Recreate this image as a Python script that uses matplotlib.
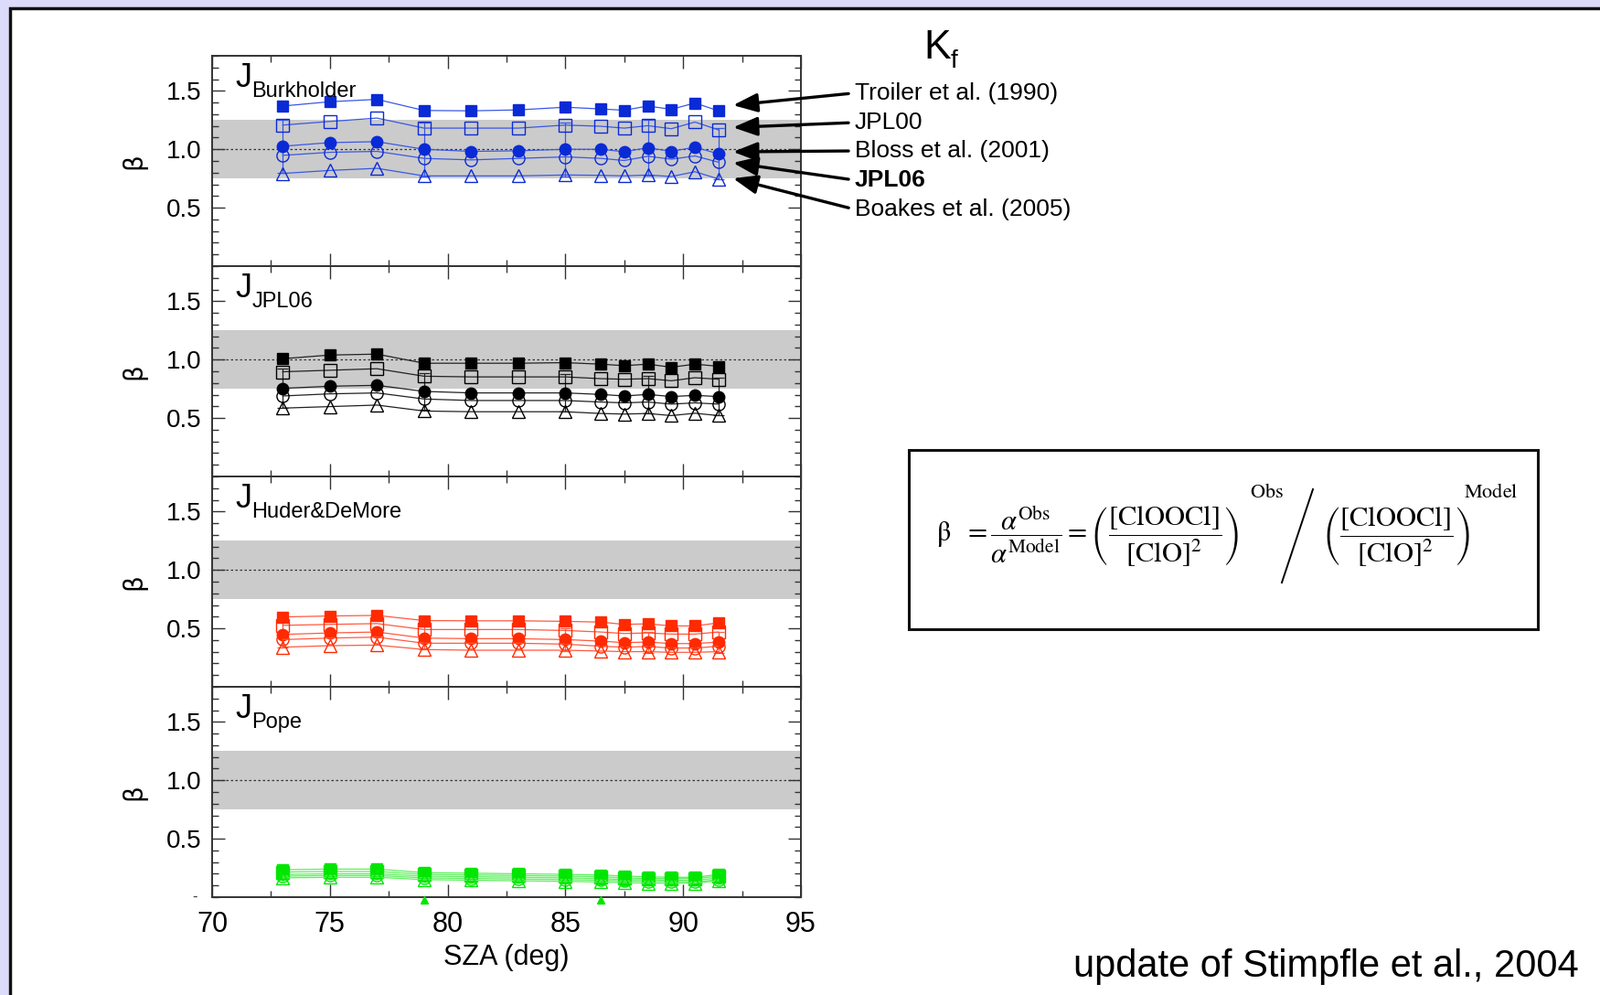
import numpy as np
import matplotlib.pyplot as plt
from matplotlib.patches import Rectangle
from matplotlib.lines import Line2D
from matplotlib.ticker import MultipleLocator, FixedLocator

plt.rcParams['font.family'] = ['Liberation Sans', 'DejaVu Sans']
plt.rcParams['mathtext.fontset'] = 'stix'

# solar zenith angles of the measurements
sza = [73, 75, 77, 79, 81, 83, 85, 86.5, 87.5, 88.5, 89.5, 90.5, 91.5]

# J_Burkholder
burk_troiler = [1.370, 1.407, 1.427, 1.332, 1.329, 1.337, 1.360, 1.345, 1.334, 1.370, 1.342, 1.396, 1.329]
burk_jpl00 = [1.207, 1.238, 1.267, 1.181, 1.181, 1.181, 1.207, 1.197, 1.181, 1.202, 1.176, 1.233, 1.166]
burk_bloss = [1.026, 1.057, 1.065, 1.000, 0.982, 0.987, 1.000, 1.000, 0.979, 1.013, 0.982, 1.018, 0.961]
burk_jpl06 = [0.948, 0.974, 0.982, 0.922, 0.909, 0.922, 0.935, 0.922, 0.904, 0.940, 0.915, 0.943, 0.889]
burk_boakes = [0.793, 0.819, 0.837, 0.772, 0.772, 0.772, 0.780, 0.777, 0.772, 0.780, 0.767, 0.808, 0.746]

# J_JPL06
jpl_troiler = [1.008, 1.039, 1.047, 0.969, 0.969, 0.969, 0.974, 0.961, 0.948, 0.961, 0.935, 0.961, 0.943]
jpl_jpl00 = [0.896, 0.909, 0.922, 0.858, 0.852, 0.852, 0.852, 0.837, 0.832, 0.837, 0.819, 0.845, 0.832]
jpl_bloss = [0.754, 0.772, 0.780, 0.728, 0.715, 0.715, 0.715, 0.702, 0.689, 0.702, 0.684, 0.694, 0.684]
jpl_jpl06 = [0.689, 0.707, 0.715, 0.663, 0.650, 0.650, 0.650, 0.637, 0.630, 0.637, 0.619, 0.630, 0.619]
jpl_boakes = [0.585, 0.598, 0.611, 0.560, 0.554, 0.554, 0.554, 0.539, 0.534, 0.539, 0.521, 0.541, 0.521]

# J_Huder&DeMore
hud_troiler = [0.598, 0.606, 0.611, 0.567, 0.565, 0.565, 0.560, 0.554, 0.534, 0.539, 0.521, 0.521, 0.547]
hud_jpl00 = [0.526, 0.534, 0.541, 0.490, 0.490, 0.490, 0.482, 0.469, 0.456, 0.461, 0.451, 0.451, 0.469]
hud_bloss = [0.448, 0.461, 0.469, 0.417, 0.412, 0.412, 0.404, 0.391, 0.378, 0.383, 0.370, 0.370, 0.383]
hud_jpl06 = [0.404, 0.417, 0.425, 0.373, 0.373, 0.373, 0.365, 0.347, 0.339, 0.345, 0.332, 0.332, 0.347]
hud_boakes = [0.339, 0.352, 0.357, 0.319, 0.313, 0.313, 0.313, 0.306, 0.301, 0.301, 0.295, 0.295, 0.301]

# J_Pope
pope_troiler = [0.235, 0.240, 0.240, 0.210, 0.205, 0.200, 0.195, 0.190, 0.180, 0.175, 0.170, 0.170, 0.195]
pope_jpl00 = [0.215, 0.220, 0.220, 0.195, 0.190, 0.185, 0.180, 0.175, 0.165, 0.160, 0.160, 0.160, 0.180]
pope_bloss = [0.195, 0.200, 0.200, 0.180, 0.175, 0.170, 0.165, 0.160, 0.150, 0.150, 0.145, 0.145, 0.165]
pope_jpl06 = [0.180, 0.185, 0.185, 0.165, 0.160, 0.155, 0.150, 0.145, 0.140, 0.135, 0.135, 0.130, 0.150]
pope_boakes = [0.165, 0.170, 0.170, 0.150, 0.145, 0.140, 0.135, 0.130, 0.125, 0.120, 0.120, 0.120, 0.140]
pope_low_sza = [79, 86.5]
pope_low = [-0.025, -0.025]

# error bars drawn on the Bloss series at these points
err_idx = [0, 3, 6, 9, 12]
burk_err = [0.23, 0.23, 0.23, 0.24, 0.22]
jpl_err = [0.17, 0.16, 0.16, 0.16, 0.16]
hud_err = [0.11, 0.10, 0.10, 0.09, 0.09]
pope_err = [0.04, 0.04, 0.04, 0.03, 0.03]

panel_names = ['Burkholder', 'JPL06', 'Huder&DeMore', 'Pope']
kf_labels = ['Troiler et al. (1990)', 'JPL00', 'Bloss et al. (2001)', 'JPL06', 'Boakes et al. (2005)']
kf_tips = [1.377, 1.187, 0.978, 0.884, 0.751]

panels = [
    ([burk_troiler, burk_jpl00, burk_bloss, burk_jpl06, burk_boakes], burk_err, '#0a2ad6', '#3a58e4'),
    ([jpl_troiler, jpl_jpl00, jpl_bloss, jpl_jpl06, jpl_boakes], jpl_err, '#000000', '#222222'),
    ([hud_troiler, hud_jpl00, hud_bloss, hud_jpl06, hud_boakes], hud_err, '#ff2a00', '#ff5a40'),
    ([pope_troiler, pope_jpl00, pope_bloss, pope_jpl06, pope_boakes], pope_err, '#00e600', '#60ee60'),
]
styles = [('s', True, 9), ('s', False, 10), ('o', True, 9), ('o', False, 9.5), ('^', False, 10)]

fig = plt.figure(figsize=(17.5, 10.88), dpi=100)
fig.patch.set_facecolor('#dcdcfa')
fig.patches.append(Rectangle((11 / 1750, -0.05), 1.0, 1.05 - 9 / 1088, transform=fig.transFigure,
                             facecolor='white', edgecolor='#111111', lw=2.5, zorder=-10))

ax_left, ax_w = 232 / 1750, 644 / 1750
ax_h = 230 / 1088
ax_bot = 107 / 1088
axes = []
for i in range(4):
    bottom = ax_bot + (3 - i) * ax_h
    ax = fig.add_axes([ax_left, bottom, ax_w, ax_h])
    axes.append(ax)

for i, (ax, (series, errs, mc, lc)) in enumerate(zip(axes, panels)):
    ax.axhspan(0.75, 1.25, color='#cbcbcb', lw=0, zorder=0)
    ax.axhline(1.0, color='#333333', lw=0.9, ls=(0, (2, 2)), zorder=1)
    for vals, (mk, filled, ms) in zip(series, styles):
        ax.plot(sza, vals, color=lc, lw=0.9, marker=mk, ms=ms,
                mfc=mc if filled else 'none', mec=mc, mew=1.0, zorder=3)
    bloss = series[2]
    ax.errorbar([sza[k] for k in err_idx], [bloss[k] for k in err_idx], yerr=errs,
                fmt='none', ecolor=lc, elinewidth=0.9, capsize=4, capthick=0.9, zorder=2)

    ax.set_xlim(70, 95)
    ax.set_ylim(0, 1.8)
    ax.xaxis.set_major_locator(MultipleLocator(5))
    ax.xaxis.set_minor_locator(MultipleLocator(2.5))
    ax.yaxis.set_major_locator(FixedLocator([0.5, 1.0, 1.5]))
    ax.yaxis.set_minor_locator(MultipleLocator(0.1))
    ax.yaxis.set_major_formatter(plt.FormatStrFormatter('%.1f'))
    ax.tick_params(which='both', direction='in', top=True, right=True, color='#333333')
    ax.tick_params(which='major', length=10, width=1.0, labelsize=20, pad=8)
    ax.tick_params(which='minor', length=5, width=1.0)
    for sp in ax.spines.values():
        sp.set_color('#333333')
        sp.set_linewidth(1.4)
    ax.set_ylabel('β', fontsize=20, labelpad=16, family='DejaVu Sans')
    if i < 3:
        ax.tick_params(labelbottom=False)

    ax.text(0.040, 0.852, 'J', transform=ax.transAxes, fontsize=26, va='baseline', ha='left')
    ax.text(0.067, 0.805, panel_names[i], transform=ax.transAxes, fontsize=17, va='baseline', ha='left')

# points falling just below the Pope panel
axes[3].plot(pope_low_sza, pope_low, ls='none', marker='^', ms=6, color='#00e600', clip_on=False, zorder=4)
axes[3].text(-0.03, 0.0, '-', transform=axes[3].transAxes, ha='center', va='center', fontsize=12, color='#333333')
axes[3].tick_params(axis='x', labelsize=22, pad=11)
axes[3].set_xlabel('SZA (deg)', fontsize=22, labelpad=4)

# K_f labels with arrows into the top panel
fig.text(1010 / 1750, 1 - 64 / 1088, 'K', fontsize=32, va='baseline', ha='left')
fig.text(1040 / 1750, 1 - 74 / 1088, 'f', fontsize=20, va='baseline', ha='left')
label_y = [101.7, 134, 165, 197, 229]
for lab, tip, ly in zip(kf_labels, kf_tips, label_y):
    axes[0].annotate(lab, xy=(92.12, tip), xycoords='data',
                     xytext=(935 / 1750, 1 - ly / 1088), textcoords='figure fraction',
                     fontsize=19, ha='left', va='center',
                     fontweight='bold' if lab == 'JPL06' else 'normal',
                     arrowprops=dict(arrowstyle='-|>,head_length=0.85,head_width=0.33', color='black',
                                     lw=2.4, mutation_scale=19, shrinkA=3, shrinkB=0, relpos=(0, 0.5)),
                     annotation_clip=False)

# definition of beta in a box
fig.patches.append(Rectangle((994 / 1750, 1 - 688 / 1088), 688 / 1750, 196 / 1088, transform=fig.transFigure,
                             facecolor='white', edgecolor='#111111', lw=2.2, zorder=1))
eq_y = 1 - 587 / 1088
fig.text(1024 / 1750, eq_y,
         r'$\mathrm{\beta}\ \ = \dfrac{\alpha^{\mathrm{Obs}}}{\alpha^{\mathrm{Model}}} = '
         r'\left(\dfrac{[\mathrm{ClOOCl}]}{[\mathrm{ClO}]^{2}}\right)$',
         fontsize=22, va='center', ha='left', zorder=2)
fig.text(1367 / 1750, 1 - 538 / 1088, r'$\mathrm{Obs}$', fontsize=16, va='center', ha='left', zorder=2)
fig.lines.append(Line2D([1402 / 1750, 1436 / 1750], [1 - 637 / 1088, 1 - 535 / 1088],
                        transform=fig.transFigure, color='black', lw=1.4))
fig.text(1446 / 1750, eq_y,
         r'$\left(\dfrac{[\mathrm{ClOOCl}]}{[\mathrm{ClO}]^{2}}\right)$',
         fontsize=22, va='center', ha='left', zorder=2)
fig.text(1601 / 1750, 1 - 538 / 1088, r'$\mathrm{Model}$', fontsize=16, va='center', ha='left', zorder=2)

fig.text(1727 / 1750, 1 - 1057 / 1088, 'update of Stimpfle et al., 2004', fontsize=30,
         ha='right', va='center')

fig.savefig('out.png', dpi=100, facecolor=fig.get_facecolor())
